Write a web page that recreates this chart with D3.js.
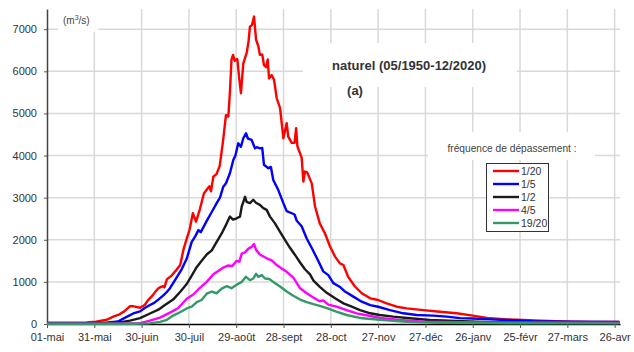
<!DOCTYPE html>
<html>
<head>
<meta charset="utf-8">
<script src="https://cdn.jsdelivr.net/npm/d3@7"></script>
<style>
  body { margin: 0; background: #fff; }
  svg { display: block; font-family: "Liberation Sans", Arial, sans-serif; }
</style>
</head>
<body>
<div id="viz"></div>
<script>
// x ticks: one every 30 days, starting on 1 May
const tickDays = [0, 30, 60, 90, 120, 150, 180, 210, 240, 270, 300, 330, 360];
const tickLabels = ["01-mai", "31-mai", "30-juin", "30-juil", "29-août", "28-sept", "28-oct",
    "27-nov", "27-déc", "26-janv", "25-févr", "27-mars", "26-avr"];
const yTicks = [0, 1000, 2000, 3000, 4000, 5000, 6000, 7000];

const seriesNames = ["1/20", "1/5", "1/2", "4/5", "19/20"];
const seriesColors = ["#ff0000", "#0000ff", "#1a1a1a", "#ff00ff", "#339966"];

// [day since 1 May, discharge m3/s]
const q1in20 = [[0,30],[15,30],[25,35],[31,55],[38,100],[42,175],[46,230],[49,300],[52.5,420],[55,420],[59,385],[62,450],[64,560],[67,680],[69,780],[71,860],[73.5,900],[74.5,870],[76,1060],[79,1150],[82,1280],[84.5,1400],[86.5,1760],[88,1950],[90.5,2250],[92.5,2630],[94.5,2430],[97,2730],[99.5,3100],[101.5,3200],[103,3270],[104,3150],[105.5,3500],[107.5,3560],[109.5,3750],[111.5,4300],[113.5,4960],[115,4930],[116,5500],[117,6270],[118,6390],[119,6250],[120.7,6290],[122,5800],[123,5480],[124.5,6190],[126.6,6430],[127.8,6700],[128.7,7060],[130,7100],[131.3,7300],[132.6,6750],[134,6600],[135,6390],[136.5,6400],[137.6,6150],[139,6100],[140,6280],[140.8,5830],[142.5,5910],[144,5800],[145.7,5360],[147.8,5130],[149.9,4410],[152,4770],[153,4450],[155.2,4300],[157,4300],[158,4650],[158.8,4220],[160,4100],[161.5,3950],[162.6,3380],[163.6,3620],[165,3600],[167.9,3340],[170,2790],[173,2390],[176.3,2150],[179.5,1840],[182.7,1600],[185.8,1440],[188,1400],[191,1120],[195.3,890],[199.6,730],[205,610],[210,570],[215.4,490],[221.8,410],[228,372],[238.7,330],[249,290],[259.8,254],[270,200],[281,135],[291.5,111],[302,95],[312.7,79],[323,64],[333.8,55],[345,50],[363,47]];
const q1in5 = [[0,20],[25,20],[38,30],[45,60],[50.5,170],[54.7,250],[59,300],[62,380],[65.3,450],[68,500],[70.6,580],[73.8,680],[76,760],[78,850],[81,1030],[85.4,1300],[88.6,1550],[91.8,1950],[94,2080],[96,2230],[97.5,2180],[101.3,2450],[104.5,2660],[107.6,2870],[109.7,3000],[111.8,3260],[113.5,3340],[116,3580],[118.2,3900],[119.5,4000],[121.3,4290],[123,4210],[124.5,4410],[126.2,4530],[127.5,4400],[129.8,4370],[131.9,4170],[133,4200],[135,4170],[136.5,4180],[137.6,3780],[140.4,3700],[142,3730],[143.5,3420],[146.7,3180],[149.9,2870],[152,2680],[155.2,2630],[157,2600],[158.4,2450],[161.5,2320],[164.7,2030],[168,1800],[172,1500],[175.2,1250],[178.4,1160],[181.6,970],[185.8,880],[189,770],[194.3,650],[199.6,530],[205,450],[210,410],[217.5,330],[226,254],[234.5,214],[245,200],[253.5,174],[262,140],[270,130],[281,110],[291.5,95],[308,64],[330,55],[363,50]];
const q1in2 = [[0,15],[30,15],[46,35],[52.6,80],[59,140],[65.3,250],[70.6,340],[74.8,450],[80,580],[84.4,760],[88.6,950],[91.8,1150],[94.9,1350],[98.1,1500],[101.3,1650],[104.5,1750],[107.6,1950],[110.8,2150],[114,2390],[116,2550],[118,2480],[120.3,2510],[122.4,2550],[123.5,2790],[125.6,3020],[126.6,2900],[128.7,2870],[130.8,2950],[132.5,2880],[135,2830],[137.2,2750],[139.3,2710],[141.4,2550],[144.6,2390],[147.8,2190],[151,1990],[154.1,1810],[157.3,1640],[160.5,1460],[163.6,1300],[166.8,1180],[169,1030],[173,880],[177.4,740],[182.7,610],[188,490],[193.3,410],[198.5,332],[205,254],[211,214],[219.6,174],[230,135],[243,95],[255,80],[268,60],[281,40],[363,40]];
const q4in5 = [[0,10],[40,10],[59,20],[65.3,79],[71.7,150],[78,270],[83.3,380],[88.6,600],[92.8,700],[97,860],[101.3,1000],[105.5,1180],[108.6,1260],[111.8,1340],[115,1390],[117.5,1380],[120.3,1500],[122,1480],[123.5,1670],[125.6,1700],[127.7,1790],[129.8,1830],[131.3,1900],[132.6,1760],[135,1650],[139.3,1560],[142.5,1510],[145.7,1400],[148.8,1320],[152,1240],[156.2,1100],[160.5,850],[164.7,730],[168.9,630],[173,540],[175.2,560],[178.4,460],[183.7,411],[190,332],[196.4,254],[205,190],[213,135],[224,95],[238.7,55],[260,40],[363,30]];
const q19in20 = [[0,5],[55,5],[65,15],[71.7,50],[76,100],[80,200],[84.4,280],[88.6,370],[91.8,410],[95,520],[98,570],[101.3,720],[104.5,770],[107.6,730],[110.8,840],[114,900],[117,850],[120.3,930],[123.5,1000],[126.2,1120],[128.7,1040],[130.8,1080],[132.6,1190],[134,1120],[136.2,1160],[138.3,1080],[141,1070],[143.5,1000],[147.8,890],[152,770],[156.2,670],[160.5,580],[164.7,520],[169,470],[173,430],[178,370],[183,300],[190,214],[200,135],[213,95],[228,55],[249,31],[280,20],[363,15]];

const allSeries = [q1in20, q1in5, q1in2, q4in5, q19in20];

const width = 634, height = 352;
const svg = d3.select("#viz").append("svg")
    .attr("width", width)
    .attr("height", height);

// plot area
const x = d3.scaleLinear().domain([0, 363.4]).range([47, 620]);
const y = d3.scaleLinear().domain([0, 7480]).range([324, 9]);

// gridlines
svg.append("g")
    .selectAll("line")
    .data(tickDays.slice(1))
    .join("line")
    .attr("x1", d => x(d)).attr("x2", d => x(d))
    .attr("y1", y(7480)).attr("y2", y(0))
    .attr("stroke", "#d9d9d9").attr("stroke-width", 1.5);
svg.append("g")
    .selectAll("line")
    .data(yTicks.slice(1))
    .join("line")
    .attr("x1", x(0)).attr("x2", x(363.4))
    .attr("y1", d => y(d)).attr("y2", d => y(d))
    .attr("stroke", "#d9d9d9").attr("stroke-width", 1.5);

// white boxes behind the labels (they hide the grid)
const boxes = [[58, 9, 40, 23], [303, 43, 214, 44], [428, 132, 167, 28]];
svg.append("g")
    .selectAll("rect")
    .data(boxes)
    .join("rect")
    .attr("x", d => d[0]).attr("y", d => d[1])
    .attr("width", d => d[2]).attr("height", d => d[3])
    .attr("fill", "#fff");

// axes
const xAxis = svg.append("g")
    .attr("transform", `translate(0,${y(0)})`)
    .call(d3.axisBottom(x).tickValues(tickDays).tickFormat((d, i) => tickLabels[i]).tickSize(4).tickSizeOuter(0));
xAxis.select(".domain").attr("stroke", "#000").attr("stroke-width", 1.5);
xAxis.selectAll(".tick line").attr("stroke", "#555");
xAxis.selectAll(".tick text")
    .attr("dy", "0.71em").attr("y", 9)
    .attr("fill", "#333").style("font-size", "11px")
    .style("font-family", "'Liberation Sans', Arial, sans-serif");

const yAxis = svg.append("g")
    .attr("transform", `translate(${x(0)},0)`)
    .call(d3.axisLeft(y).tickValues(yTicks).tickFormat(d3.format("d")).tickSize(3).tickSizeOuter(0));
yAxis.select(".domain").attr("stroke", "#444").attr("stroke-width", 1.5);
yAxis.selectAll(".tick line").attr("stroke", "#555");
yAxis.selectAll(".tick text")
    .attr("x", -10)
    .attr("fill", "#333").style("font-size", "11px")
    .style("font-family", "'Liberation Sans', Arial, sans-serif");

// curves
const line = d3.line()
    .x(d => x(d[0]))
    .y(d => y(d[1]));

svg.append("g")
    .selectAll("path")
    .data(allSeries)
    .join("path")
    .attr("d", line)
    .attr("fill", "none")
    .attr("stroke", (d, i) => seriesColors[i])
    .attr("stroke-width", 2.4)
    .attr("stroke-linejoin", "round");

// texts
const unit = svg.append("text")
    .attr("x", 63).attr("y", 24)
    .attr("fill", "#444").style("font-size", "10px");
unit.append("tspan").text("(m");
unit.append("tspan").attr("dy", -4).style("font-size", "7px").text("3");
unit.append("tspan").attr("dy", 4).text("/s)");

svg.append("text")
    .attr("x", 409).attr("y", 70)
    .attr("text-anchor", "middle")
    .attr("fill", "#333")
    .style("font-size", "13px").style("font-weight", "bold")
    .text("naturel (05/1950-12/2020)");

svg.append("text")
    .attr("x", 355).attr("y", 95)
    .attr("text-anchor", "middle")
    .attr("fill", "#333")
    .style("font-size", "13px").style("font-weight", "bold")
    .text("(a)");

// legend
svg.append("text")
    .attr("x", 512).attr("y", 152)
    .attr("text-anchor", "middle")
    .attr("fill", "#444")
    .style("font-size", "10.2px")
    .text("fréquence de dépassement :");

const legend = svg.append("g");
legend.append("rect")
    .attr("x", 486.5).attr("y", 163.5)
    .attr("width", 62).attr("height", 68)
    .attr("fill", "#fff").attr("stroke", "#333").attr("stroke-width", 1);

const rows = legend.selectAll("g.row")
    .data(seriesNames)
    .join("g")
    .attr("class", "row")
    .attr("transform", (d, i) => `translate(0,${171 + i * 13})`);
rows.append("line")
    .attr("x1", 493).attr("x2", 519)
    .attr("stroke", (d, i) => seriesColors[i])
    .attr("stroke-width", 2.4);
rows.append("text")
    .attr("x", 521).attr("dy", "0.35em")
    .attr("fill", "#333")
    .style("font-size", "10.5px")
    .text(d => d);
</script>
</body>
</html>
